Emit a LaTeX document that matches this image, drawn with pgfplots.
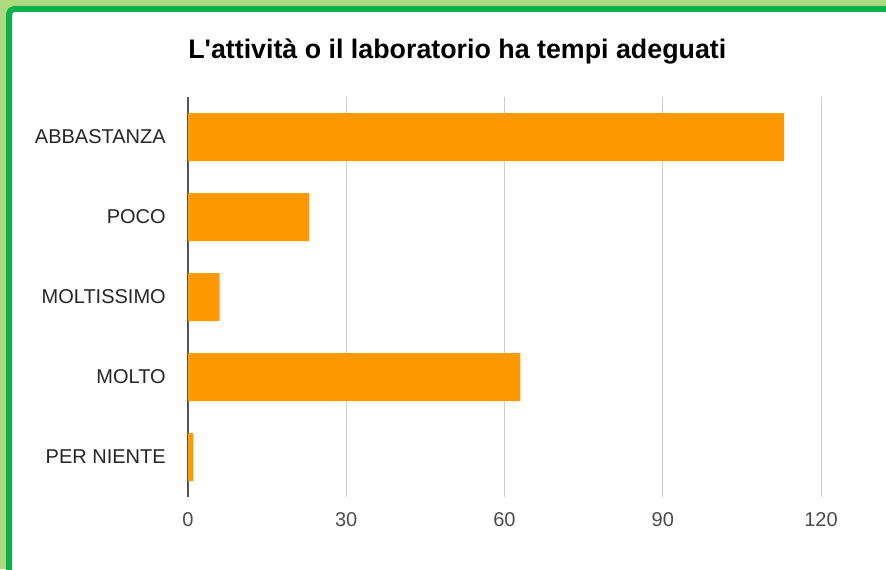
\documentclass[border=0pt]{standalone}
\usepackage{fontspec}
\setmainfont{Liberation Sans}
\usepackage{pgfplots}
\pgfplotsset{compat=1.18}
\definecolor{barorange}{HTML}{FF9900}
\definecolor{frameouter}{HTML}{ADDA7E}
\definecolor{frameinner}{HTML}{0DB14B}
\definecolor{gridgray}{HTML}{CCCCCC}
\definecolor{zeroline}{HTML}{555555}

\begin{document}
\begin{tikzpicture}
% page frame, 1px = 0.75pt
\path[use as bounding box] (0,0) rectangle (664.5pt,426.75pt);
\fill[frameouter] (0,0) rectangle (664.5pt,426.75pt);
\begin{scope}
  \clip (0,0) rectangle (664.5pt,426.75pt);
  \filldraw[fill=white, draw=frameinner, line width=4.5pt, rounded corners=4pt]
    (6.75pt,-20pt) rectangle (700pt,420pt);
\end{scope}

\node[anchor=base west, inner sep=0pt, font=\bfseries\fontsize{20.1pt}{24pt}\selectfont]
  at (141pt,382.5pt) {L\textquotesingle attività o il laboratorio ha tempi adeguati};

\begin{axis}[
    at={(141pt,54pt)}, anchor=south west,
    scale only axis,
    width=474.75pt, height=300pt,
    xbar, bar width=36pt,
    xmin=0, xmax=120,
    ymin=-0.5, ymax=4.5,
    y dir=reverse,
    axis line style={draw=none},
    major tick length=0pt,
    xtick={30,60,90,120},
    extra x ticks={0},
    extra x tick style={major grid style={draw=zeroline, line width=1.5pt}},
    xmajorgrids,
    major grid style={draw=gridgray, line width=0.75pt},
    ytick={0,1,2,3,4},
    yticklabels={ABBASTANZA,POCO,MOLTISSIMO,MOLTO,PER NIENTE},
    tick label style={font=\fontsize{15pt}{18pt}\selectfont},
    yticklabel style={text=black!85, anchor=east, inner sep=0pt, xshift=-16.5pt},
    xticklabel style={text=black!70, anchor=center, inner sep=0pt, yshift=-17.25pt},
    /pgf/number format/assume math mode=true,
]
\addplot[fill=barorange, draw=none] coordinates {
    (113,0) (23,1) (6,2) (63,3) (1,4)
};
\end{axis}
\end{tikzpicture}
\end{document}
